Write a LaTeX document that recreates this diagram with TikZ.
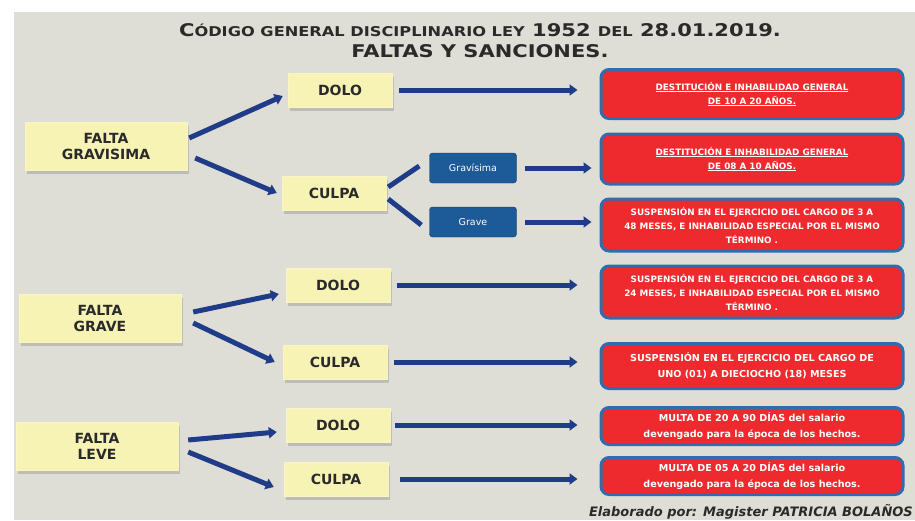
\documentclass[tikz,border=0pt]{standalone}
\usepackage{fontspec}
\setmainfont{DejaVu Sans}
\newfontfamily\titulofont[FakeStretch=1.2]{DejaVu Sans}
\usetikzlibrary{arrows.meta,shadows}
\definecolor{fondo}{HTML}{DEDED6}
\definecolor{amarillo}{HTML}{F7F3B5}
\definecolor{azulflecha}{HTML}{1F3C88}
\definecolor{rojo}{HTML}{EE2A2E}
\definecolor{bordeazul}{HTML}{2F6DAE}
\definecolor{boton}{HTML}{1D5A98}
\definecolor{tinta}{HTML}{2A2A2A}
\newcommand\peq[1]{{\fontsize{13.5}{14}\selectfont #1}}
\tikzset{
  falta/.style={fill=amarillo, draw=amarillo!80!white, minimum width=162pt, minimum height=48pt,
    align=center, text=tinta, font=\fontsize{14}{16}\selectfont\bfseries,
    drop shadow={opacity=0.35, shadow xshift=2pt, shadow yshift=-4pt}},
  tipo/.style={fill=amarillo, draw=amarillo!80!white, minimum width=104pt, minimum height=34pt,
    text=tinta, font=\fontsize{14}{16}\selectfont\bfseries,
    drop shadow={opacity=0.35, shadow xshift=2pt, shadow yshift=-4pt}},
  boton/.style={fill=boton, draw=boton!70!black, rounded corners=3pt, minimum width=87pt,
    minimum height=30pt, text=white, font=\fontsize{9.5}{10}\selectfont},
  sancion/.style={fill=rojo, draw=bordeazul, line width=3pt, rounded corners=8pt,
    minimum width=302pt, align=center, text=white,
    font=\fontsize{8.8}{14}\selectfont\bfseries},
  multa/.style={sancion, font=\fontsize{9.6}{16}\selectfont\bfseries},
  flecha/.style={draw=azulflecha, line width=5pt, -{Triangle[length=8pt,width=11pt]}}
}
\begin{document}
\begin{tikzpicture}[x=1pt,y=-1pt]
  \useasboundingbox (0,0) rectangle (915,520);
  \fill[fondo] (14,12) rectangle (915,520);
  \path
    (480,30) node[text=tinta, font=\titulofont\fontsize{17.5}{18}\selectfont\bfseries] (titulo)
      {C\peq{ÓDIGO GENERAL DISCIPLINARIO LEY} 1952 \peq{DEL} 28.01.2019.}
    (480,51) node[text=tinta, font=\titulofont\fontsize{17.5}{18}\selectfont\bfseries] (subtitulo)
      {FALTAS Y SANCIONES.}
    (106,146) node[falta] (fgs) {FALTA\\GRAVISIMA}
    (100,318) node[falta] (fg) {FALTA\\GRAVE}
    (97,446) node[falta] (fl) {FALTA\\LEVE}
    (340,90) node[tipo] (d1) {DOLO}
    (334,193) node[tipo] (c1) {CULPA}
    (338,285) node[tipo] (d2) {DOLO}
    (335,362) node[tipo] (c2) {CULPA}
    (338,425) node[tipo] (d3) {DOLO}
    (336,479) node[tipo] (c3) {CULPA}
    (473,168) node[boton] (b1) {Gravísima}
    (473,222) node[boton] (b2) {Grave}
    (752,94) node[sancion, minimum height=49pt] (s1)
      {\underline{DESTITUCIÓN E INHABILIDAD GENERAL}\\\underline{DE 10 A 20 AÑOS.}}
    (752,159) node[sancion, minimum height=50pt] (s2)
      {\underline{DESTITUCIÓN E INHABILIDAD GENERAL}\\\underline{DE 08 A 10 AÑOS.}}
    (752,225) node[sancion, minimum height=52pt] (s3)
      {SUSPENSIÓN EN EL EJERCICIO DEL CARGO DE 3 A\\48 MESES, E INHABILIDAD ESPECIAL POR EL MISMO\\TÉRMINO .}
    (752,292) node[sancion, minimum height=52pt] (s4)
      {SUSPENSIÓN EN EL EJERCICIO DEL CARGO DE 3 A\\24 MESES, E INHABILIDAD ESPECIAL POR EL MISMO\\TÉRMINO .}
    (752,366) node[multa, minimum height=45pt] (s5)
      {SUSPENSIÓN EN EL EJERCICIO DEL CARGO DE\\UNO (01) A DIECIOCHO (18) MESES}
    (752,426) node[multa, minimum height=37pt] (s6)
      {MULTA DE 20 A 90 DÍAS del salario\\devengado para la época de los hechos.}
    (752,476) node[multa, minimum height=37pt] (s7)
      {MULTA DE 05 A 20 DÍAS del salario\\devengado para la época de los hechos.}
    (913,519) node[anchor=south east, inner sep=0pt, text=tinta,
      font=\fontsize{13}{14}\selectfont\bfseries\itshape] (autora)
      {Elaborado por: Magister PATRICIA BOLAÑOS};
  \begin{scope}[flecha]
    \draw ([xshift=2pt,yshift=8pt]fgs.east) to ([xshift=-5pt,yshift=-6pt]d1.west);
    \draw ([xshift=8pt,yshift=-12pt]fgs.east) to ([xshift=-5pt]c1.west);
    \draw ([xshift=12pt,yshift=6pt]fg.east) to ([xshift=-7pt,yshift=-9pt]d2.west);
    \draw ([xshift=12pt,yshift=-5pt]fg.east) to ([xshift=-8pt]c2.west);
    \draw ([xshift=10pt,yshift=6pt]fl.east) to ([xshift=-9pt,yshift=-7pt]d3.west);
    \draw ([xshift=10pt,yshift=-6pt]fl.east) to ([xshift=-10pt,yshift=-8pt]c3.west);
    \draw[shorten <=7pt, shorten >=22pt] (d1.east) to (d1.east -| s1.west);
    \draw[shorten <=8pt, shorten >=8pt] (b1.east) to (b1.east -| s2.west);
    \draw[shorten <=8pt, shorten >=8pt] (b2.east) to (b2.east -| s3.west);
    \draw[shorten <=7pt, shorten >=22pt] (d2.east) to (d2.east -| s4.west);
    \draw[shorten <=7pt, shorten >=22pt] (c2.east) to (c2.east -| s5.west);
    \draw[shorten <=5pt, shorten >=22pt] (d3.east) to (d3.east -| s6.west);
    \draw[shorten <=12pt, shorten >=22pt] (c3.east) to (c3.east -| s7.west);
  \end{scope}
  \begin{scope}[draw=azulflecha, line width=5pt]
    \draw ([xshift=2pt,yshift=6pt]c1.east) to ([xshift=-10pt,yshift=2pt]b1.west);
    \draw ([xshift=2pt,yshift=-6pt]c1.east) to ([xshift=-8pt,yshift=-3pt]b2.west);
  \end{scope}
\end{tikzpicture}
\end{document}
